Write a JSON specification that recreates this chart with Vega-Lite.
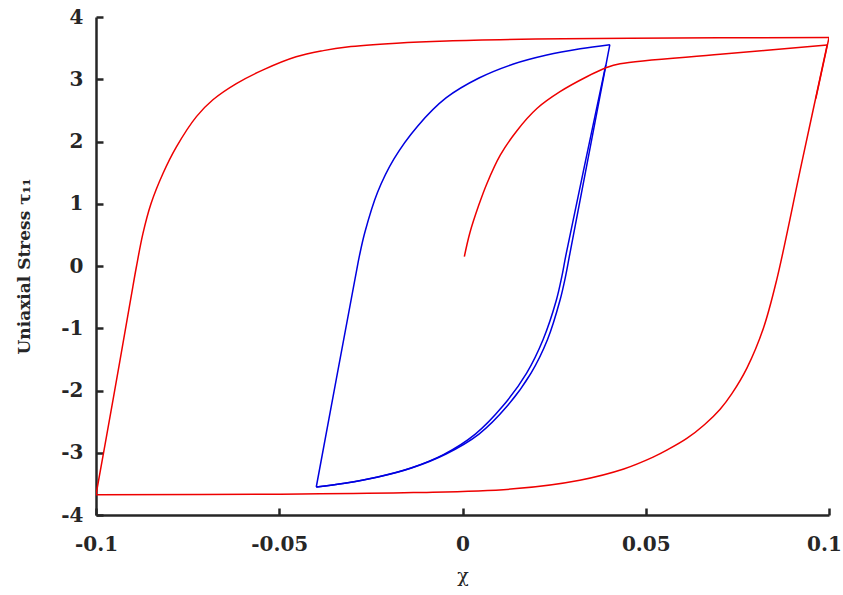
{
  "$schema": "https://vega.github.io/schema/vega-lite/v6.json",
  "width": 733,
  "height": 498,
  "autosize": "none",
  "padding": {"left": 96, "top": 17, "right": 14, "bottom": 80},
  "background": "white",
  "config": {
    "view": {"stroke": null},
    "axis": {
      "grid": false,
      "domainColor": "#262626",
      "domainWidth": 2.5,
      "tickColor": "#262626",
      "tickWidth": 2.5,
      "tickSize": -7,
      "labelFont": "DejaVu Serif",
      "labelFontWeight": "bold",
      "labelFontSize": 20,
      "labelColor": "#262626",
      "titleFont": "DejaVu Serif",
      "titleColor": "#262626"
    }
  },
  "datasets": {
    "blue": [
      {"seg": "b1", "order": 1, "chi": 0.0391, "tau": 3.23},
      {"seg": "b1", "order": 2, "chi": 0.0283, "tau": 0.20},
      {"seg": "b1", "order": 3, "chi": 0.0271, "tau": -0.17},
      {"seg": "b1", "order": 4, "chi": 0.0256, "tau": -0.55},
      {"seg": "b1", "order": 5, "chi": 0.0220, "tau": -1.18},
      {"seg": "b1", "order": 6, "chi": 0.0175, "tau": -1.72},
      {"seg": "b1", "order": 7, "chi": 0.0110, "tau": -2.25},
      {"seg": "b1", "order": 8, "chi": 0.0035, "tau": -2.70},
      {"seg": "b1", "order": 9, "chi": -0.0052, "tau": -3.03},
      {"seg": "b1", "order": 10, "chi": -0.0143, "tau": -3.25},
      {"seg": "b1", "order": 11, "chi": -0.0232, "tau": -3.39},
      {"seg": "b1", "order": 12, "chi": -0.0322, "tau": -3.49},
      {"seg": "b1", "order": 13, "chi": -0.0399, "tau": -3.55},
      {"seg": "b2", "order": 14, "chi": -0.0399, "tau": -3.55},
      {"seg": "b2", "order": 15, "chi": -0.0293, "tau": -0.20},
      {"seg": "b2", "order": 16, "chi": -0.0281, "tau": 0.17},
      {"seg": "b2", "order": 17, "chi": -0.0266, "tau": 0.55},
      {"seg": "b2", "order": 18, "chi": -0.0232, "tau": 1.18},
      {"seg": "b2", "order": 19, "chi": -0.0187, "tau": 1.72},
      {"seg": "b2", "order": 20, "chi": -0.0122, "tau": 2.25},
      {"seg": "b2", "order": 21, "chi": -0.0045, "tau": 2.70},
      {"seg": "b2", "order": 22, "chi": 0.0045, "tau": 3.02},
      {"seg": "b2", "order": 23, "chi": 0.0139, "tau": 3.245},
      {"seg": "b2", "order": 24, "chi": 0.0230, "tau": 3.39},
      {"seg": "b2", "order": 25, "chi": 0.0321, "tau": 3.49},
      {"seg": "b2", "order": 26, "chi": 0.0402, "tau": 3.555},
      {"seg": "b3", "order": 27, "chi": 0.0402, "tau": 3.555},
      {"seg": "b3", "order": 28, "chi": 0.0293, "tau": 0.20},
      {"seg": "b3", "order": 29, "chi": 0.0281, "tau": -0.17},
      {"seg": "b3", "order": 30, "chi": 0.0266, "tau": -0.55},
      {"seg": "b3", "order": 31, "chi": 0.0232, "tau": -1.18},
      {"seg": "b3", "order": 32, "chi": 0.0187, "tau": -1.72},
      {"seg": "b3", "order": 33, "chi": 0.0122, "tau": -2.25},
      {"seg": "b3", "order": 34, "chi": 0.0045, "tau": -2.70},
      {"seg": "b3", "order": 35, "chi": -0.0045, "tau": -3.02},
      {"seg": "b3", "order": 36, "chi": -0.0139, "tau": -3.245},
      {"seg": "b3", "order": 37, "chi": -0.0230, "tau": -3.39},
      {"seg": "b3", "order": 38, "chi": -0.0321, "tau": -3.49},
      {"seg": "b3", "order": 39, "chi": -0.0399, "tau": -3.55}
    ],
    "red": [
      {"seg": "r1", "order": 1, "chi": 0.0005, "tau": 0.15},
      {"seg": "r1", "order": 2, "chi": 0.0020, "tau": 0.53},
      {"seg": "r1", "order": 3, "chi": 0.0044, "tau": 0.97},
      {"seg": "r1", "order": 4, "chi": 0.0067, "tau": 1.33},
      {"seg": "r1", "order": 5, "chi": 0.0103, "tau": 1.78},
      {"seg": "r1", "order": 6, "chi": 0.0148, "tau": 2.17},
      {"seg": "r1", "order": 7, "chi": 0.0203, "tau": 2.53},
      {"seg": "r1", "order": 8, "chi": 0.0266, "tau": 2.80},
      {"seg": "r1", "order": 9, "chi": 0.0339, "tau": 3.04},
      {"seg": "r1", "order": 10, "chi": 0.0390, "tau": 3.18},
      {"seg": "r1", "order": 11, "chi": 0.0430, "tau": 3.25},
      {"seg": "r1", "order": 12, "chi": 0.0703, "tau": 3.40},
      {"seg": "r1", "order": 13, "chi": 0.0995, "tau": 3.55},
      {"seg": "r2", "order": 14, "chi": 0.0995, "tau": 3.55},
      {"seg": "r2", "order": 15, "chi": 0.0925, "tau": 1.64},
      {"seg": "r2", "order": 16, "chi": 0.0857, "tau": -0.23},
      {"seg": "r2", "order": 17, "chi": 0.0821, "tau": -1.00},
      {"seg": "r2", "order": 18, "chi": 0.0776, "tau": -1.64},
      {"seg": "r2", "order": 19, "chi": 0.0735, "tau": -2.05},
      {"seg": "r2", "order": 20, "chi": 0.0703, "tau": -2.30},
      {"seg": "r2", "order": 21, "chi": 0.0660, "tau": -2.55},
      {"seg": "r2", "order": 22, "chi": 0.0612, "tau": -2.77},
      {"seg": "r2", "order": 23, "chi": 0.0560, "tau": -2.95},
      {"seg": "r2", "order": 24, "chi": 0.0520, "tau": -3.07},
      {"seg": "r2", "order": 25, "chi": 0.0440, "tau": -3.26},
      {"seg": "r2", "order": 26, "chi": 0.0320, "tau": -3.44},
      {"seg": "r2", "order": 27, "chi": 0.0139, "tau": -3.58},
      {"seg": "r2", "order": 28, "chi": -0.0134, "tau": -3.64},
      {"seg": "r2", "order": 29, "chi": -0.0497, "tau": -3.665},
      {"seg": "r2", "order": 30, "chi": -0.1000, "tau": -3.675},
      {"seg": "r3", "order": 31, "chi": -0.1000, "tau": -3.675},
      {"seg": "r3", "order": 32, "chi": -0.0952, "tau": -2.10},
      {"seg": "r3", "order": 33, "chi": -0.0905, "tau": -0.52},
      {"seg": "r3", "order": 34, "chi": -0.0890, "tau": -0.02},
      {"seg": "r3", "order": 35, "chi": -0.0872, "tau": 0.52},
      {"seg": "r3", "order": 36, "chi": -0.0850, "tau": 1.00},
      {"seg": "r3", "order": 37, "chi": -0.0817, "tau": 1.49},
      {"seg": "r3", "order": 38, "chi": -0.0781, "tau": 1.91},
      {"seg": "r3", "order": 39, "chi": -0.0726, "tau": 2.40},
      {"seg": "r3", "order": 40, "chi": -0.0681, "tau": 2.67},
      {"seg": "r3", "order": 41, "chi": -0.0617, "tau": 2.93},
      {"seg": "r3", "order": 42, "chi": -0.0544, "tau": 3.15},
      {"seg": "r3", "order": 43, "chi": -0.0454, "tau": 3.36},
      {"seg": "r3", "order": 44, "chi": -0.0380, "tau": 3.46},
      {"seg": "r3", "order": 45, "chi": -0.0315, "tau": 3.52},
      {"seg": "r3", "order": 46, "chi": -0.0180, "tau": 3.58},
      {"seg": "r3", "order": 47, "chi": -0.0043, "tau": 3.615},
      {"seg": "r3", "order": 48, "chi": 0.0200, "tau": 3.645},
      {"seg": "r3", "order": 49, "chi": 0.0457, "tau": 3.66},
      {"seg": "r3", "order": 50, "chi": 0.1000, "tau": 3.67},
      {"seg": "r4", "order": 51, "chi": 0.1000, "tau": 3.67},
      {"seg": "r4", "order": 52, "chi": 0.0964, "tau": 2.69}
    ]
  },
  "encoding": {
    "x": {
      "field": "chi",
      "type": "quantitative",
      "scale": {"domain": [-0.1, 0.1], "nice": false, "zero": false},
      "axis": {
        "values": [-0.1, -0.05, 0, 0.05, 0.1],
        "labelExpr": "toString(datum.value)",
        "labelPadding": 26,
        "labelFlush": false,
        "labelOffset": {"condition": {"test": "datum.value >= 0.1", "value": -5}, "value": 0},
        "title": "χ",
        "titleFontSize": 19,
        "titleFontWeight": "normal",
        "titlePadding": 12
      }
    },
    "y": {
      "field": "tau",
      "type": "quantitative",
      "scale": {"domain": [-4, 4], "nice": false, "zero": false},
      "axis": {
        "values": [-4, -3, -2, -1, 0, 1, 2, 3, 4],
        "labelExpr": "toString(datum.value)",
        "labelPadding": 20,
        "labelFlush": false,
        "title": "Uniaxial Stress τ₁₁",
        "titleFontSize": 17,
        "titleFontWeight": "bold",
        "titlePadding": 27
      }
    },
    "order": {"field": "order", "type": "quantitative"},
    "detail": {"field": "seg", "type": "nominal"}
  },
  "layer": [
    {
      "data": {"name": "blue"},
      "mark": {"type": "line", "color": "#0000e0", "strokeWidth": 1.5, "interpolate": "catmull-rom", "clip": true}
    },
    {
      "data": {"name": "red"},
      "mark": {"type": "line", "color": "#ee0000", "strokeWidth": 1.5, "interpolate": "catmull-rom", "clip": true}
    }
  ]
}
